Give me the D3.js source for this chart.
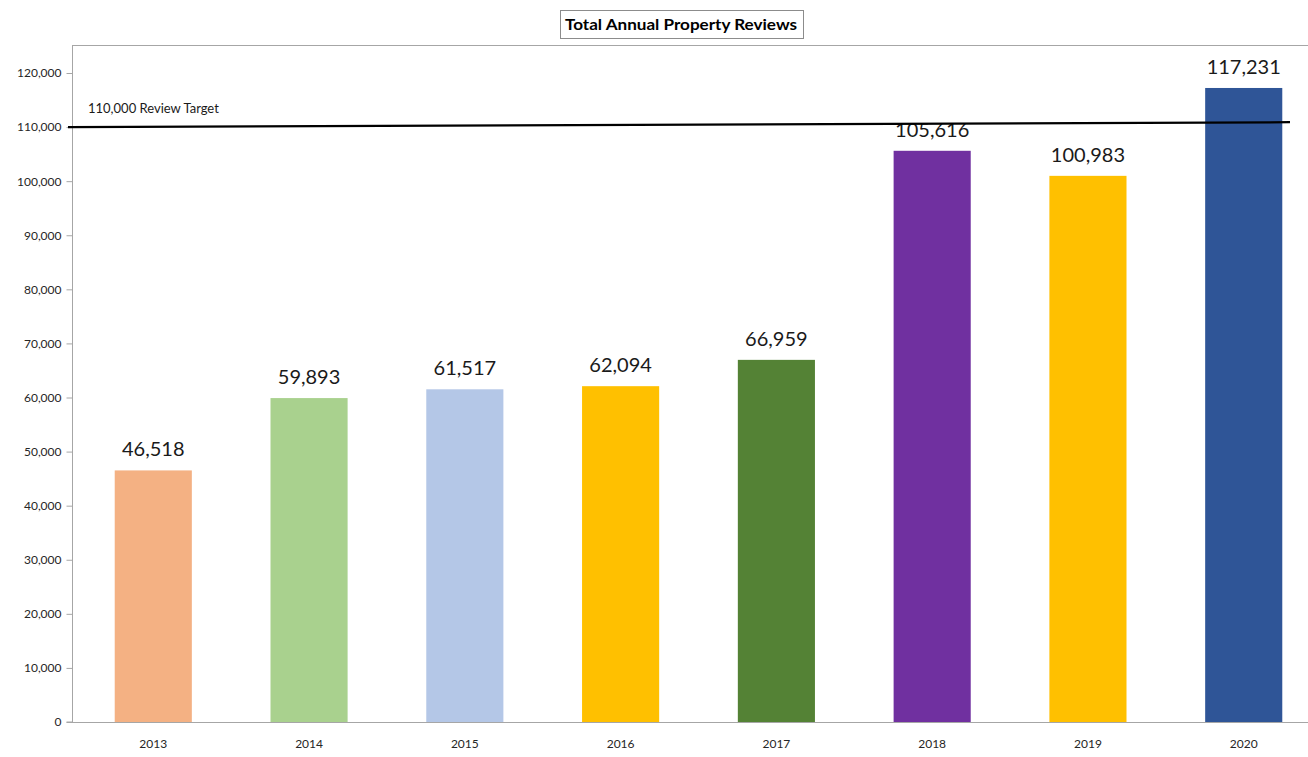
<!DOCTYPE html>
<html><head><meta charset="utf-8">
<script src="https://cdn.jsdelivr.net/npm/d3@7"></script>
<style>
html,body{margin:0;padding:0;background:#fff;}
svg{display:block;font-family:Lato,"Open Sans",sans-serif;}
</style></head>
<body>
<script>
const years = ["2013","2014","2015","2016","2017","2018","2019","2020"];
const reviews = [46518, 59893, 61517, 62094, 66959, 105616, 100983, 117231];
const barColors = ["#F4B183","#A9D18E","#B4C7E7","#FFC000","#548235","#7030A0","#FFC000","#2F5597"];
const yTicks = [0,10000,20000,30000,40000,50000,60000,70000,80000,90000,100000,110000,120000];
const targetValues = [110000, 110900]; // drawn target line, left end and right end
const targetLabel = "110,000 Review Target";
const chartTitle = "Total Annual Property Reviews";

(function(){
const W = 1308, H = 757;
const svg = d3.select("body").append("svg").attr("width", W).attr("height", H);

const mLeft = 72, mTop = 45, mBottom = 722;
const x = d3.scaleBand().domain(years).range([mLeft + 3, 1322]).paddingInner(0.505).paddingOuter(0.255);
const y = d3.scaleLinear().domain([0, 120000]).range([mBottom, 73]);
const fmt = d3.format(",");

// plot frame top border
svg.append("line").attr("x1", mLeft).attr("x2", W).attr("y1", mTop + 0.5).attr("y2", mTop + 0.5)
  .attr("stroke", "#a6a6a6").attr("stroke-width", 1);

// y axis
const yAxis = svg.append("g").attr("transform", `translate(${mLeft + 0.5},0)`)
  .call(d3.axisLeft(y).tickValues(yTicks).tickFormat(fmt).tickSize(6).tickPadding(5));
yAxis.select(".domain").attr("d", `M-6,${mBottom}H0V${mTop}`).attr("stroke", "#a6a6a6");
yAxis.selectAll(".tick line").attr("stroke", "#a6a6a6");
yAxis.selectAll(".tick text").attr("font-size", 12).attr("fill", "#262626").attr("font-family", "Lato");

// x axis
const xAxis = svg.append("g").attr("transform", `translate(0,${mBottom + 0.5})`)
  .call(d3.axisBottom(x).tickSize(0).tickPadding(17));
xAxis.select(".domain").attr("d", `M${mLeft},0H${W}`).attr("stroke", "#a6a6a6");
xAxis.selectAll(".tick text").attr("font-size", 12).attr("fill", "#262626").attr("font-family", "Lato");

// bars
svg.append("g").selectAll("rect").data(years).join("rect")
  .attr("x", d => x(d)).attr("width", x.bandwidth())
  .attr("y", (d, i) => y(reviews[i])).attr("height", (d, i) => y(0) - y(reviews[i]))
  .attr("fill", (d, i) => barColors[i]);

// value labels
svg.append("g").selectAll("text").data(years).join("text")
  .attr("x", d => x(d) + x.bandwidth() / 2).attr("y", (d, i) => y(reviews[i]) - 14)
  .attr("text-anchor", "middle").attr("font-size", 20).attr("fill", "#1a1a1a")
  .text((d, i) => fmt(reviews[i]));

// target line
svg.append("line")
  .attr("x1", mLeft - 4).attr("x2", 1290)
  .attr("y1", y(targetValues[0])).attr("y2", y(targetValues[1]))
  .attr("stroke", "#000").attr("stroke-width", 2.2);
svg.append("text").attr("x", 88).attr("y", y(targetValues[0]) - 14)
  .attr("font-size", 13).attr("fill", "#1a1a1a").text(targetLabel);

// title box
const tg = svg.append("g");
tg.append("rect").attr("x", 560.5).attr("y", 10.5).attr("width", 243).attr("height", 28)
  .attr("fill", "#fff").attr("stroke", "#8c8c8c").attr("stroke-width", 1);
tg.append("text").attr("x", 681).attr("y", 30).attr("text-anchor", "middle")
  .attr("font-size", 16).attr("font-weight", "bold").attr("fill", "#000")
  .attr("textLength", 232).attr("lengthAdjust", "spacingAndGlyphs").text(chartTitle);
})();
</script>
</body></html>
